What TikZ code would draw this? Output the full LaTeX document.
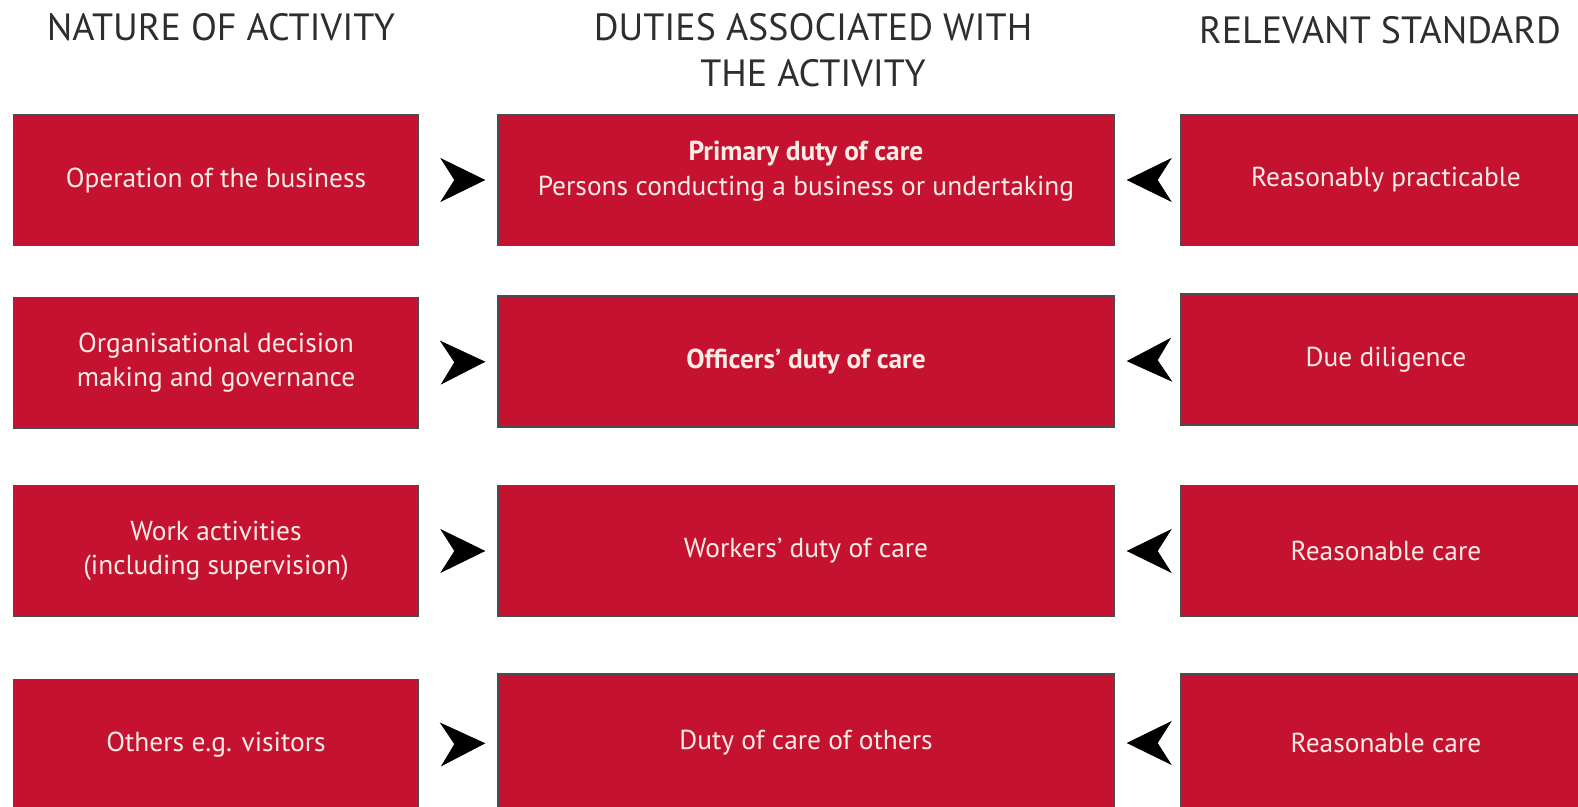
\documentclass[tikz,border=0pt]{standalone}
\usepackage{fontspec}
\setmainfont{PT Sans}
\usetikzlibrary{arrows.meta}
\definecolor{boxred}{HTML}{C41230}
\definecolor{boxtext}{HTML}{FBEDE6}
\definecolor{headgray}{HTML}{2E2E2E}
\def\px{0.02cm}

\begin{document}
\begin{tikzpicture}[x=\px,y=-\px,
	duty/.style={rectangle,draw=black!70,line width=0.8pt,fill=boxred,text=boxtext,font=\fontsize{15.6}{19.5}\selectfont,align=center,minimum height={131*\px},inner sep=0pt},
	head/.style={text=headgray,font=\fontsize{21.6}{26.2}\selectfont,align=center},
	dart/.style={-{Stealth[length={45*\px},width={44*\px},inset={14*\px}]},line width=0.4pt,black}]
	\useasboundingbox (0,0) rectangle (1578,807);
	\clip (0,0) rectangle (1578,807);
	\node (hnature) at (221,27) [head] {NATURE OF ACTIVITY};
	\node (hduties) at (813,50) [head] {DUTIES ASSOCIATED WITH\\THE ACTIVITY};
	\node (hstandard) at (1380,30) [head] {RELEVANT STANDARD};
	\node (act1) at (216,180) [duty,minimum width={405*\px}] {Operation of the business};
	\node (act2) at (216,363) [duty,minimum width={405*\px}] {Organisational decision\\making and governance};
	\node (act3) at (216,551) [duty,minimum width={405*\px}] {Work activities\\(including supervision)};
	\node (act4) at (216,745) [duty,minimum width={405*\px}] {Others e.g. visitors};
	\node (duty1) at (806,180) [duty,minimum width={616*\px}] {\raisebox{0.05cm}[0pt][0pt]{\begin{tabular}{@{}c@{}}\textbf{Primary duty of care}\\Persons conducting a business or undertaking\end{tabular}}};
	\node (duty2) at (806,361.5) [duty,minimum width={616*\px}] {\textbf{Officers’ duty of care}};
	\node (duty3) at (806,551) [duty,minimum width={616*\px}] {Workers’ duty of care};
	\node (duty4) at (806,743) [duty,minimum width={616*\px},minimum height={138*\px}] {Duty of care of others};
	\node (std1) at (1386,180) [duty,minimum width={410*\px}] {Reasonably practicable};
	\node (std2) at (1386,359.5) [duty,minimum width={410*\px}] {Due diligence};
	\node (std3) at (1386,551) [duty,minimum width={410*\px}] {Reasonable care};
	\node (std4) at (1386,743) [duty,minimum width={410*\px},minimum height={138*\px}] {Reasonable care};
	\foreach \i in {1,...,4} {
		\draw [dart,shorten <={35*\px},shorten >={12*\px}] (act\i.east) -- (duty\i.west);
		\draw [dart,shorten <={25*\px},shorten >={12*\px}] (std\i.west) -- (duty\i.east);
	}
\end{tikzpicture}
\end{document}
